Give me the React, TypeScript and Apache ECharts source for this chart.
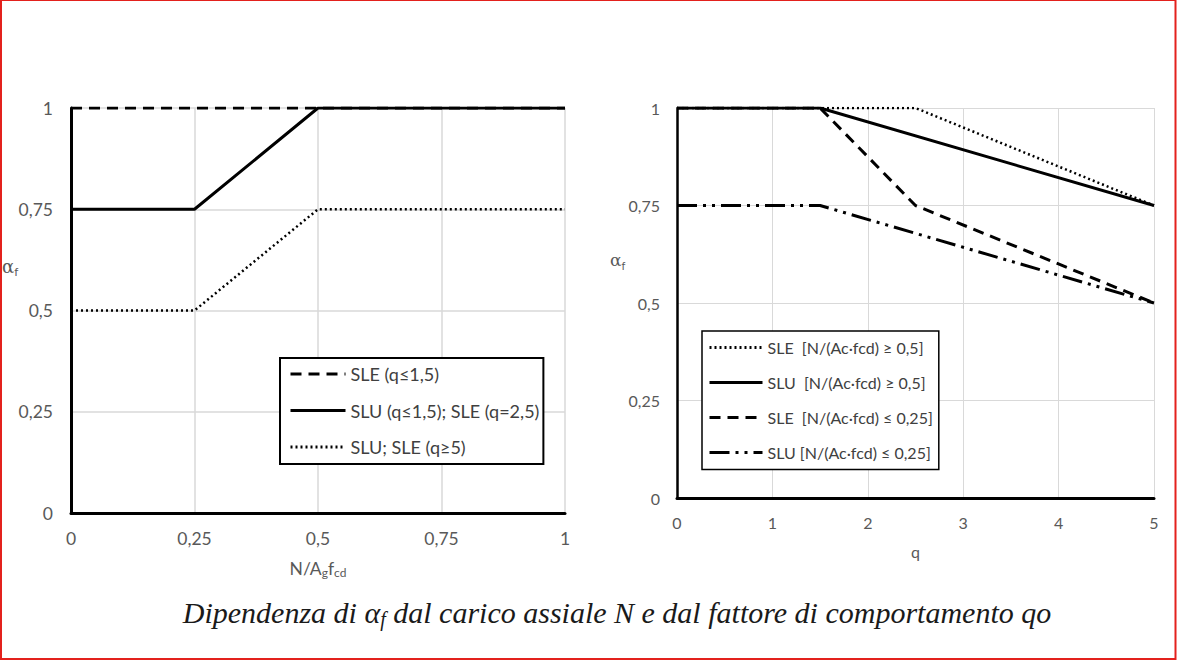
import React, { useEffect, useRef } from "react";
import * as echarts from "echarts";

// ---- data (left chart: alpha_f vs N/(Ag fcd)) ----
const leftX = [0, 0.25, 0.5, 1];
const leftSLE_q15 = [1, 1, 1, 1];
const leftSLU_q15 = [0.75, 0.75, 1, 1];
const leftSLU_q5 = [0.5, 0.5, 0.75, 0.75];
const leftNames = ["SLE (q≤1,5)", "SLU (q≤1,5); SLE (q=2,5)", "SLU; SLE (q≥5)"];

// ---- data (right chart: alpha_f vs q) ----
const rSLEhiQ = [0, 2.5, 5];
const rSLEhiA = [1, 1, 0.75];
const rSLUhiQ = [0, 1.5, 5];
const rSLUhiA = [1, 1, 0.75];
const rSLEloQ = [0, 1.5, 2.5, 5];
const rSLEloA = [1, 1, 0.75, 0.5];
const rSLUloQ = [0, 1.5, 5];
const rSLUloA = [0.75, 0.75, 0.5];
const rightNames = [
  "SLE  [N/(Ac·fcd) ≥ 0,5]",
  "SLU  [N/(Ac·fcd) ≥ 0,5]",
  "SLE  [N/(Ac·fcd) ≤ 0,25]",
  "SLU [N/(Ac·fcd) ≤ 0,25]",
];

const caption = "Dipendenza di {a|α}{s|f}{t| dal carico assiale N e dal fattore di comportamento qo}";

const zip = (xs: number[], ys: number[]) => xs.map((x, i) => [x, ys[i]]);
const fmt = (v: number) => String(v).replace(".", ",");

const FONT = "Lato";
const GRID = "#d9d9d9";
const LABEL = "#595959";

const DOTTED = [2, 3];
const DASHED = [11, 7];
const DASHDOT = [20, 6, 3, 6, 3, 6];

export default function App() {
  const ref = useRef<HTMLDivElement>(null);
  useEffect(() => {
    if (!ref.current) return;
    const chart = echarts.init(ref.current, null, { renderer: "svg" });
    const line = (name: string, data: number[][], xi: number, type: any, width = 3) => ({
      type: "line",
      name,
      xAxisIndex: xi,
      yAxisIndex: xi,
      data,
      symbol: "none",
      lineStyle: { color: "#000", width, type },
      itemStyle: { color: "#000" },
      emphasis: { disabled: true },
    });
    const alphaText = (x: number, y: number, size: number) => ({
      type: "text",
      x,
      y,
      silent: true,
      style: {
        text: "{a|α}{s|f}",
        verticalAlign: "middle",
        fill: LABEL,
        rich: {
          a: { fontFamily: "DejaVu Serif", fontSize: size, fill: LABEL, lineHeight: 22 },
          s: { fontFamily: FONT, fontSize: size * 0.65, fill: LABEL, lineHeight: 12, verticalAlign: "bottom" },
        },
      },
    });
    chart.setOption({
      animation: false,
      backgroundColor: "#fff",
      grid: [
        { left: 71, top: 108, width: 494, height: 405 },
        { left: 677, top: 108, width: 477, height: 390 },
      ],
      xAxis: [
        {
          type: "value",
          gridIndex: 0,
          min: 0,
          max: 1,
          interval: 0.25,
          axisLine: { show: true, onZero: false, lineStyle: { color: "#000", width: 3 } },
          axisTick: { show: false },
          splitLine: { show: true, lineStyle: { color: GRID, width: 1.5 } },
          axisLabel: { color: LABEL, fontFamily: FONT, fontSize: 17.5, formatter: fmt, margin: 16 },
          name: "N/A{s|g}f{s|cd}",
          nameLocation: "middle",
          nameGap: 45,
          nameTextStyle: {
            color: LABEL,
            fontFamily: FONT,
            fontSize: 17.5,
            lineHeight: 20,
            rich: {
              s: { fontFamily: FONT, fontSize: 12, color: LABEL, lineHeight: 12, verticalAlign: "bottom" },
            },
          },
        },
        {
          type: "value",
          gridIndex: 1,
          min: 0,
          max: 5,
          interval: 1,
          axisLine: { show: true, onZero: false, lineStyle: { color: "#000", width: 3 } },
          axisTick: { show: false },
          splitLine: { show: true, lineStyle: { color: GRID, width: 1 } },
          axisLabel: { color: LABEL, fontFamily: FONT, fontSize: 16, formatter: fmt, margin: 16 },
          name: "q",
          nameLocation: "middle",
          nameGap: 45,
          nameTextStyle: { color: LABEL, fontFamily: FONT, fontSize: 16 },
        },
      ],
      yAxis: [
        {
          type: "value",
          gridIndex: 0,
          min: 0,
          max: 1,
          interval: 0.25,
          axisLine: { show: true, onZero: false, lineStyle: { color: "#000", width: 3 } },
          axisTick: { show: false },
          splitLine: { show: true, lineStyle: { color: GRID, width: 1.5 } },
          axisLabel: { color: LABEL, fontFamily: FONT, fontSize: 17.5, formatter: fmt, margin: 18 },
        },
        {
          type: "value",
          gridIndex: 1,
          min: 0,
          max: 1,
          interval: 0.25,
          axisLine: { show: true, onZero: false, lineStyle: { color: "#000", width: 2.5 } },
          axisTick: { show: false },
          splitLine: { show: true, lineStyle: { color: GRID, width: 1 } },
          axisLabel: { color: LABEL, fontFamily: FONT, fontSize: 16, formatter: fmt, margin: 17 },
        },
      ],
      legend: [
        {
          data: leftNames,
          orient: "vertical",
          left: 280,
          top: 358,
          borderColor: "#000",
          borderWidth: 2,
          padding: [7, 4, 8, 9],
          itemGap: 18.5,
          itemWidth: 55,
          itemHeight: 20,
          itemStyle: { opacity: 0 },
          lineStyle: { width: 3 },
          textStyle: { color: "#404040", fontFamily: FONT, fontSize: 18 },
          selectedMode: false,
          backgroundColor: "#fff",
        },
        {
          data: rightNames,
          orient: "vertical",
          left: 702,
          top: 331,
          borderColor: "#000",
          borderWidth: 1.5,
          padding: [8.5, 6, 9, 6],
          itemGap: 19,
          itemWidth: 53,
          itemHeight: 20,
          itemStyle: { opacity: 0 },
          lineStyle: { width: 3 },
          textStyle: { color: "#404040", fontFamily: FONT, fontSize: 16 },
          selectedMode: false,
          backgroundColor: "#fff",
        },
      ],
      series: [
        line(leftNames[0], zip(leftX, leftSLE_q15), 0, DASHED),
        line(leftNames[1], zip(leftX, leftSLU_q15), 0, "solid"),
        line(leftNames[2], zip(leftX, leftSLU_q5), 0, DOTTED, 2.5),
        line(rightNames[0], zip(rSLEhiQ, rSLEhiA), 1, DOTTED, 2.5),
        line(rightNames[1], zip(rSLUhiQ, rSLUhiA), 1, "solid"),
        line(rightNames[2], zip(rSLEloQ, rSLEloA), 1, DASHED),
        line(rightNames[3], zip(rSLUloQ, rSLUloA), 1, DASHDOT),
      ],
      graphic: [
        {
          type: "rect",
          shape: { x: 1, y: 0, width: 1174.5, height: 659 },
          style: { fill: "none", stroke: "#e3211d", lineWidth: 2 },
          silent: true,
        },
        alphaText(2, 266, 18),
        alphaText(610, 260, 17),
        {
          type: "text",
          x: 617,
          y: 612,
          silent: true,
          style: {
            text: caption,
            align: "center",
            verticalAlign: "middle",
            fill: "#1a1a1a",
            rich: {
              a: { fontFamily: "Liberation Serif", fontStyle: "italic", fontSize: 30, lineHeight: 34 },
              s: { fontFamily: "Liberation Serif", fontStyle: "italic", fontSize: 20, lineHeight: 24, verticalAlign: "bottom" },
              t: { fontFamily: "Liberation Serif", fontStyle: "italic", fontSize: 30, lineHeight: 34 },
            },
            fontFamily: "Liberation Serif",
            fontStyle: "italic",
            fontSize: 30,
          },
        },
      ],
    });
    return () => chart.dispose();
  }, []);
  return (
    <div
      ref={ref}
      style={{ position: "absolute", left: 0, top: 0, width: 1177, height: 661 }}
    />
  );
}
